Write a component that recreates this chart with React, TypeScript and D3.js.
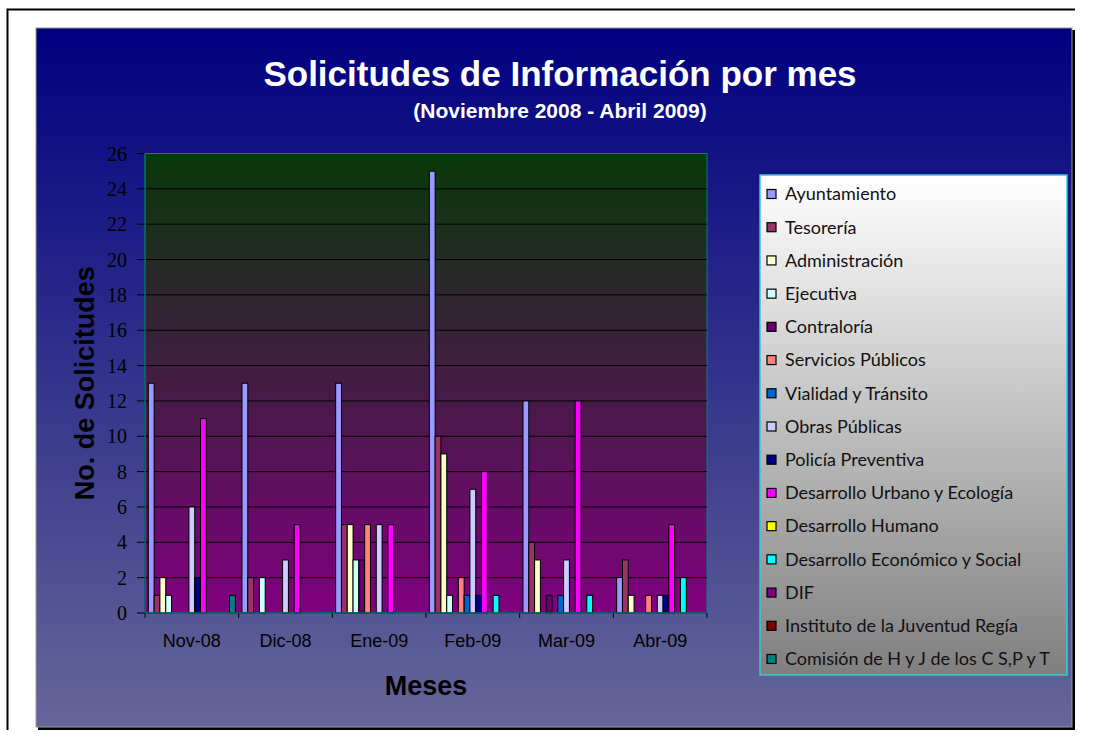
import React from "react";
import * as d3 from "d3";

const months = ["Nov-08", "Dic-08", "Ene-09", "Feb-09", "Mar-09", "Abr-09"];

const seriesNames = [
  "Ayuntamiento",
  "Tesorería",
  "Administración",
  "Ejecutiva",
  "Contraloría",
  "Servicios Públicos",
  "Vialidad y Tránsito",
  "Obras Públicas",
  "Policía Preventiva",
  "Desarrollo Urbano y Ecología",
  "Desarrollo Humano",
  "Desarrollo Económico y Social",
  "DIF",
  "Instituto de la Juventud Regía",
  "Comisión de H y J de los C S,P y T",
];

const seriesColors = [
  "#9999FF", "#993366", "#FFFFCC", "#CCFFFF", "#660066",
  "#FF8080", "#0066CC", "#CCCCFF", "#000080", "#FF00FF",
  "#FFFF00", "#00FFFF", "#800080", "#800000", "#008080",
];

// one row per series, one value per month
const ayuntamiento = [13, 13, 13, 25, 12, 2];
const tesoreria = [1, 2, 5, 10, 4, 3];
const administracion = [2, 0, 5, 9, 3, 1];
const ejecutiva = [1, 2, 3, 1, 0, 0];
const contraloria = [0, 0, 3, 0, 1, 0];
const serviciosPublicos = [0, 0, 5, 2, 0, 1];
const vialidad = [0, 0, 0, 1, 1, 0];
const obrasPublicas = [6, 3, 5, 7, 3, 1];
const policia = [2, 0, 0, 1, 0, 1];
const desarrolloUrbano = [11, 5, 5, 8, 12, 5];
const desarrolloHumano = [0, 0, 0, 0, 0, 0];
const desarrolloEconomico = [0, 0, 0, 1, 1, 2];
const dif = [0, 0, 0, 0, 0, 0];
const juventud = [0, 0, 0, 0, 0, 0];
const comision = [1, 0, 0, 0, 0, 0];

const seriesValues = [
  ayuntamiento, tesoreria, administracion, ejecutiva, contraloria,
  serviciosPublicos, vialidad, obrasPublicas, policia, desarrolloUrbano,
  desarrolloHumano, desarrolloEconomico, dif, juventud, comision,
];

const yTicks = [0, 2, 4, 6, 8, 10, 12, 14, 16, 18, 20, 22, 24, 26];

export default function App() {
  const W = 1098;
  const H = 751;
  const plot = { left: 145, top: 153.5, right: 707, bottom: 613 };

  const x0 = d3
    .scaleBand<string>()
    .domain(months)
    .range([plot.left, plot.right])
    .paddingInner(0.071)
    .paddingOuter(0.0355);

  const x1 = d3
    .scaleBand<number>()
    .domain(d3.range(seriesNames.length))
    .range([0, x0.bandwidth()]);

  const y = d3.scaleLinear().domain([0, 26]).range([plot.bottom, plot.top]);

  const half = (x0.step() - x0.bandwidth()) / 2;
  const bounds = months.map((m) => (x0(m) ?? 0) - half).concat([plot.right]);

  const legend = { x: 760, y: 175, w: 307, h: 500 };
  const rowY = d3
    .scalePoint<number>()
    .domain(d3.range(seriesNames.length))
    .range([194, 659]);

  const sans = "'Liberation Sans', Arial, sans-serif";

  return (
    <svg width={W} height={H} style={{ position: "absolute", left: 0, top: 0 }}>
      <defs>
        <linearGradient id="bgGrad" x1="0" y1="0" x2="0" y2="1">
          <stop offset="0" stopColor="#000080" />
          <stop offset="1" stopColor="#666699" />
        </linearGradient>
        <linearGradient id="plotGrad" x1="0" y1="0" x2="0" y2="1">
          <stop offset="0" stopColor="#083808" />
          <stop offset="1" stopColor="#800080" />
        </linearGradient>
        <linearGradient id="legGrad" x1="0" y1="0" x2="0" y2="1">
          <stop offset="0" stopColor="#FFFFFF" />
          <stop offset="1" stopColor="#7F7F7F" />
        </linearGradient>
      </defs>

      <rect x={0} y={0} width={W} height={H} fill="#fff" />
      <path d="M7.5,730 L7.5,9.5 L1075,9.5" fill="none" stroke="#000" strokeWidth={2} />

      {/* chart area with shadow */}
      <rect x={38} y={30} width={1037} height={700} fill="#000" />
      <rect x={36} y={28} width={1036} height={699} fill="url(#bgGrad)" stroke="#9a9a9a" strokeWidth={1} />

      <text x={560} y={86} textAnchor="middle" fill="#fff" fontFamily={sans} fontWeight="bold" fontSize={35}>
        Solicitudes de Información por mes
      </text>
      <text x={560} y={118} textAnchor="middle" fill="#fff" fontFamily={sans} fontWeight="bold" fontSize={21}>
        (Noviembre 2008 - Abril 2009)
      </text>

      <rect
        x={plot.left}
        y={plot.top}
        width={plot.right - plot.left}
        height={plot.bottom - plot.top}
        fill="url(#plotGrad)"
        stroke="#008080"
        strokeWidth={1}
      />

      {yTicks.map((t) => (
        <g key={t}>
          {t > 0 && t < 26 && (
            <line x1={plot.left} x2={plot.right} y1={y(t)} y2={y(t)} stroke="#000" strokeWidth={1} />
          )}
          <line x1={plot.left - 8} x2={plot.left} y1={y(t)} y2={y(t)} stroke="#000" strokeWidth={1} />
          <text
            x={127}
            y={y(t)}
            dy="0.35em"
            textAnchor="end"
            fontFamily="'Liberation Serif', 'Times New Roman', serif"
            fontSize={20}
            fill="#000"
          >
            {t}
          </text>
        </g>
      ))}

      {seriesValues.map((vals, si) =>
        vals.map((v, mi) =>
          v > 0 ? (
            <rect
              key={`${si}-${mi}`}
              x={(x0(months[mi]) ?? 0) + (x1(si) ?? 0)}
              y={y(v)}
              width={x1.bandwidth()}
              height={y(0) - y(v)}
              fill={seriesColors[si]}
              stroke="#000"
              strokeWidth={1}
            />
          ) : null
        )
      )}

      <line x1={plot.left} x2={plot.right} y1={plot.bottom} y2={plot.bottom} stroke="#006666" strokeWidth={1.5} />
      <line x1={plot.left} x2={plot.left} y1={plot.top} y2={plot.bottom} stroke="#006666" strokeWidth={1.5} />
      {bounds.map((b, i) => (
        <line key={i} x1={b} x2={b} y1={plot.bottom} y2={plot.bottom + 5} stroke="#000" strokeWidth={1} />
      ))}
      {months.map((m) => (
        <text
          key={m}
          x={(x0(m) ?? 0) + x0.bandwidth() / 2}
          y={647}
          textAnchor="middle"
          fontFamily={sans}
          fontSize={18}
          fill="#000"
        >
          {m}
        </text>
      ))}

      <text x={(plot.left + plot.right) / 2} y={695} textAnchor="middle" fontFamily={sans} fontWeight="bold" fontSize={27} fill="#000">
        Meses
      </text>
      <text
        transform={`translate(94,${(plot.top + plot.bottom) / 2}) rotate(-90)`}
        textAnchor="middle"
        fontFamily={sans}
        fontWeight="bold"
        fontSize={27}
        fill="#000"
      >
        No. de Solicitudes
      </text>

      <rect x={legend.x} y={legend.y} width={legend.w} height={legend.h} fill="url(#legGrad)" stroke="#33CCCC" strokeWidth={1.5} />
      {seriesNames.map((name, i) => (
        <g key={name} transform={`translate(${legend.x}, ${rowY(i)})`}>
          <rect x={7} y={-4.5} width={9} height={9} fill={seriesColors[i]} stroke="#000" strokeWidth={1.2} />
          <text x={25} y={0} dy="0.35em" fontFamily="Lato, 'Open Sans', sans-serif" fontSize={18} fill="#111">
            {name}
          </text>
        </g>
      ))}
    </svg>
  );
}
